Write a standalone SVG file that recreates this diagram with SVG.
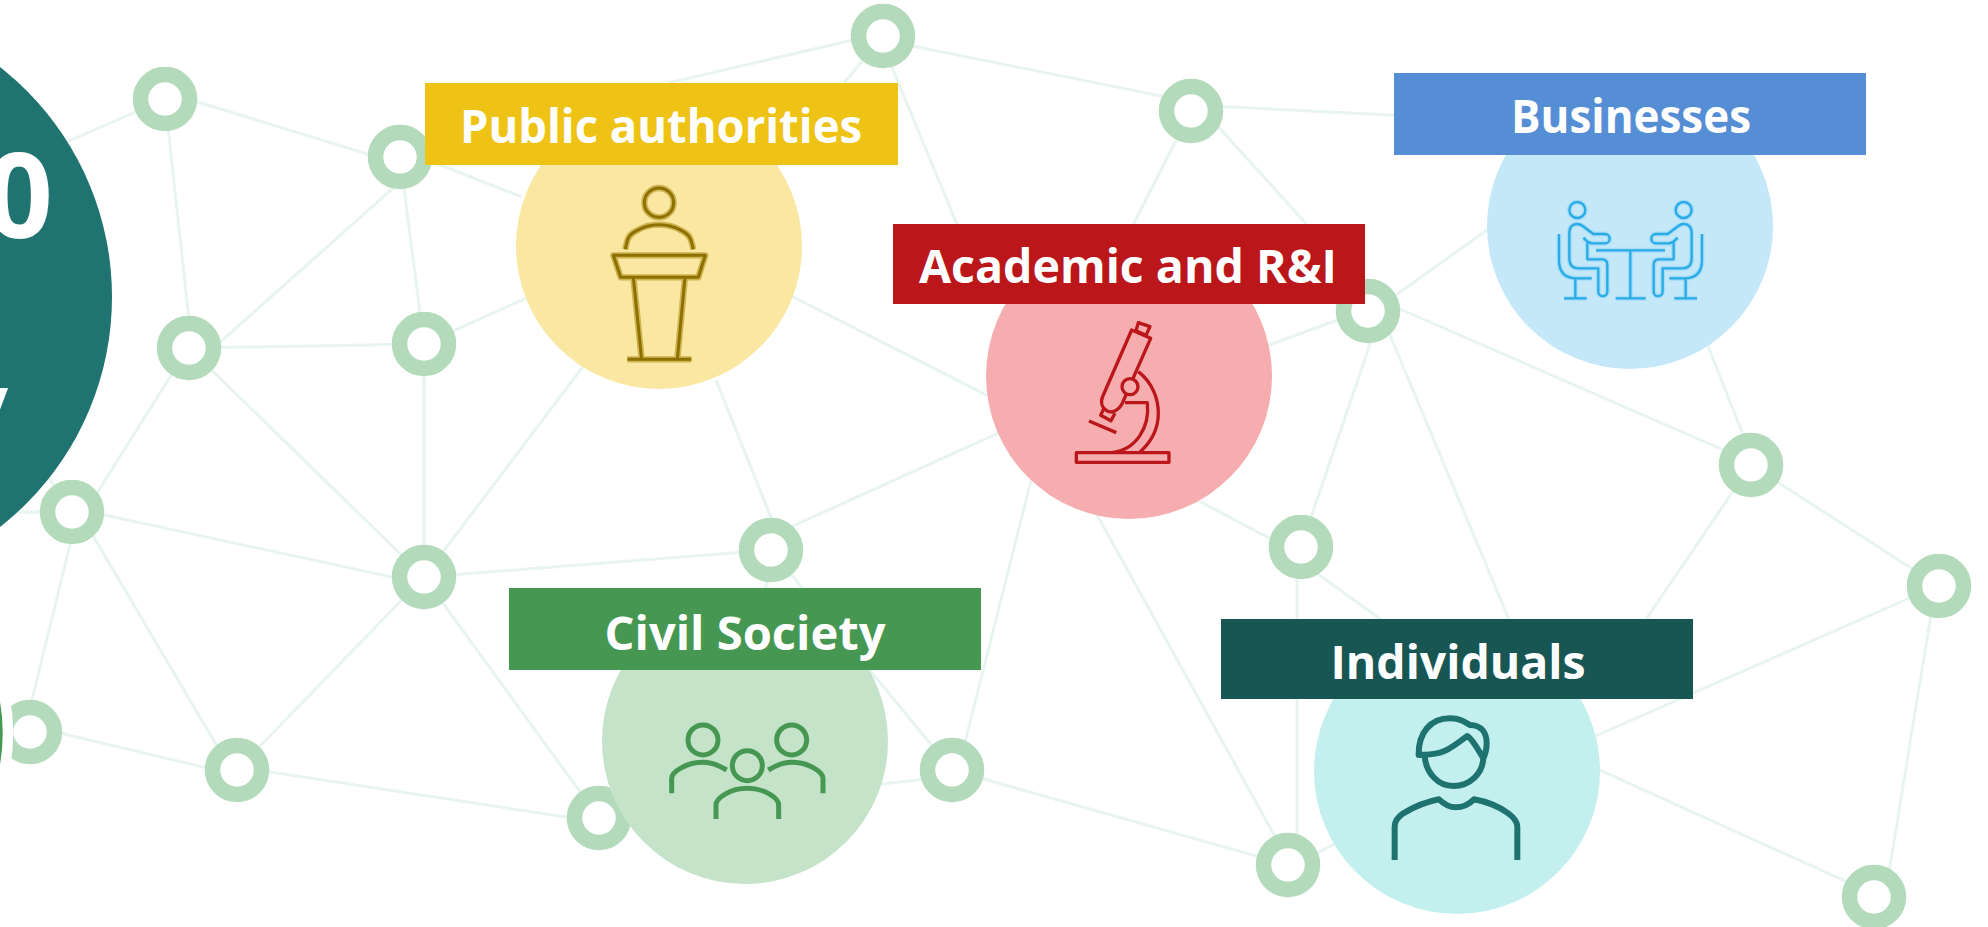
<svg xmlns="http://www.w3.org/2000/svg" width="1988" height="927" viewBox="0 0 1988 927">
<style>
.e{stroke:#E7F4F0;stroke-width:3;fill:none}
.n{fill:#fff;stroke:#B3DABB;stroke-width:15.5}
.t{font-family:"Open Sans","Noto Sans",sans-serif;font-weight:700;fill:#fff;text-anchor:middle;font-size:46px}
.i{fill:none;stroke-linejoin:round}
</style>
<rect width="1988" height="927" fill="#fff"/>
<g id="connectors">
<path class="e" d="M165 99L60 145M165 92L400 164M165 99L192 348M410 173L189 370M400 157L424 344M400 149L522 197M189 348L424 344M189 348L424 577M182 358L80 520M424 344L560 283M424 344V577M72 508L424 584M79 512L237 780M78 512L24 732M72 512H0M72 512L30 450M424 577L237 770M424 577L599 818M424 577L600 344M424 577L771 550M30 726L237 775M237 767L599 822M776 530L716 380M771 536L1060 405M771 550L745 742M771 550L952 770M750 275L1020 412M952 776L745 800M958 770L1040 445M952 770L1288 865M668 83L883 33M844 83L883 36M883 40L1191 102M879 36L990 304M1191 105L1450 118M1191 111L1100 290M1204 111L1368 292M1200 370L1368 309M1368 315L1560 178M1368 295L1751 462M1385 300L1301 547M1380 311L1510 622M1751 455L1680 275M1751 465L1939 586M1751 465L1640 628M1939 585L1550 756M1935 590L1885 897M1874 894L1500 725M1301 555L1150 475M1297 547V865M1301 562L1390 626M1288 860L1060 448M1288 868L1400 810"/>
</g>
<g id="nodes">
<circle class="n" cx="165" cy="99" r="24.5"/><circle class="n" cx="400" cy="157" r="24.5"/><circle class="n" cx="189" cy="348" r="24.5"/><circle class="n" cx="424" cy="344" r="24.5"/><circle class="n" cx="72" cy="512" r="24.5"/><circle class="n" cx="424" cy="577" r="24.5"/><circle class="n" cx="30" cy="732" r="24.5"/><circle class="n" cx="237" cy="770" r="24.5"/><circle class="n" cx="599" cy="818" r="24.5"/><circle class="n" cx="771" cy="550" r="24.5"/><circle class="n" cx="883" cy="36" r="24.5"/><circle class="n" cx="1191" cy="111" r="24.5"/><circle class="n" cx="1368" cy="311" r="24.5"/><circle class="n" cx="1301" cy="547" r="24.5"/><circle class="n" cx="952" cy="770" r="24.5"/><circle class="n" cx="1288" cy="865" r="24.5"/><circle class="n" cx="1751" cy="465" r="24.5"/><circle class="n" cx="1939" cy="586" r="24.5"/><circle class="n" cx="1874" cy="897" r="24.5"/>
</g>
<g id="hub">
<circle cx="-180" cy="297" r="292" fill="#1F7370"/>
<text x="53" y="238" style="font-family:'Open Sans','Noto Sans',sans-serif;font-weight:700;font-size:118px;fill:#fff;text-anchor:end">0</text>
<text x="8" y="426" style="font-family:'Open Sans','Noto Sans',sans-serif;font-weight:700;font-size:70px;fill:#fff;text-anchor:end">y</text>
</g>
<g id="lower-hub">
<circle cx="-177" cy="733" r="185" fill="#469752" stroke="#fff" stroke-width="10.500"/>
</g>
<g id="public-authorities">
<circle cx="659" cy="246" r="143" fill="#FAE7A2"/>
<g class="i" transform="translate(590 170) scale(.3333)">
<defs><g id="pod"><circle cx="207" cy="98" r="44"/><path d="M106 238C112 205 115 195 140 182C180 158 235 158 275 182C300 195 303 205 310 238M70 256H346L325 322H92ZM130 322L155 568M285 322L262 568M112 568H304"/></g></defs>
<use href="#pod" stroke="#A98A10" stroke-opacity=".55" stroke-width="19"/>
<use href="#pod" stroke="#8E7000" stroke-width="9"/>
</g>
<rect x="425" y="83" width="473" height="82" fill="#EEC315"/>
<text class="t" x="661" y="143" textLength="402" lengthAdjust="spacingAndGlyphs">Public authorities</text>
</g>
<g id="academic">
<circle cx="1129" cy="376" r="143" fill="#F5ADAF"/>
<g class="i" stroke="#BB171B" stroke-width="10" transform="translate(1000 260) scale(.3333)">
<path d="M229 578H507V607H229ZM395 210L452 235L408 335L368 428C358 450 335 462 320 452C305 442 300 425 310 405ZM415 188L450 200L438 226L408 212ZM312 445L302 466L333 482L345 460M267 483L349 518M415 335C460 370 475 420 475 460C475 510 450 550 418 578M375 428H442C450 500 410 570 335 578"/>
<circle cx="390" cy="380" r="24" fill="#F5ADAF"/>
</g>
<rect x="893" y="224" width="472" height="80" fill="#BB171B"/>
<text class="t" x="1128" y="283" textLength="418" lengthAdjust="spacingAndGlyphs">Academic and R&amp;I</text>
</g>
<g id="businesses">
<circle cx="1630" cy="226" r="143" fill="#C5E8F9"/>
<g transform="translate(1500 170) scale(.3333)">
<defs><g id="sit" class="i"><circle cx="232" cy="120" r="24"/><path d="M250 203L262 215V268H307Q322 268 322 285V365A13.500 13.500 0 0 1 295 365V295H235Q208 295 208 265V190Q208 162 232 162Q240 162 248 168L280 192H315A14 14 0 0 1 315 220H275L262 215M177 192V270Q177 325 230 325H275M226 325V385M192 385H260"/></g>
<g id="tbl"><use href="#sit"/><use href="#sit" transform="translate(783 0) scale(-1 1)"/><path fill="none" d="M288 241H495M391 241V385M347 385H437"/></g></defs>
<use href="#tbl" stroke="#8FD5F5" stroke-opacity=".6" stroke-width="15"/>
<use href="#tbl" stroke="#29ABE8" stroke-width="7"/>
</g>
<rect x="1394" y="73" width="472" height="82" fill="#558ED5"/>
<text class="t" x="1631" y="133" textLength="240" lengthAdjust="spacingAndGlyphs">Businesses</text>
</g>
<g id="civil-society">
<circle cx="745" cy="741" r="143" fill="#C4E3C9"/>
<g class="i" stroke="#469752" stroke-width="15" transform="translate(640 700) scale(.3333)">
<circle cx="189" cy="120" r="45"/><circle cx="455" cy="120" r="45"/><circle cx="322" cy="197" r="45"/>
<path d="M95 280V235C95 215 140 187 189 187C215 187 240 198 260 210M549 280V235C549 215 505 187 455 187C430 187 405 198 385 210M228 357V315C228 295 270 265 322 265C375 265 416 295 416 315V357"/>
</g>
<rect x="509" y="588" width="472" height="82" fill="#469752"/>
<text class="t" x="745" y="650" textLength="281" lengthAdjust="spacingAndGlyphs">Civil Society</text>
</g>
<g id="individuals">
<circle cx="1457" cy="771" r="143" fill="#C3F0EF"/>
<g class="i" stroke="#1E7370" stroke-width="18" transform="translate(1340 690) scale(.3333)">
<path d="M254 198C258 250 295 288 340 288C390 288 430 250 430 200M236 195C235 130 270 85 330 85C360 85 375 95 390 105C425 105 440 130 440 160C440 180 435 195 430 205C415 180 400 150 382 138C350 160 330 180 300 188C280 193 250 195 236 195Z"/>
<path d="M164 510V410C164 390 175 380 190 370C220 352 260 335 297 328C315 345 330 352 347 352C365 352 385 345 402 328C440 335 480 352 505 370C525 385 532 395 532 410V510"/>
</g>
<rect x="1221" y="619" width="472" height="80" fill="#185654"/>
<text class="t" x="1458" y="679" textLength="255" lengthAdjust="spacingAndGlyphs">Individuals</text>
</g>
</svg>
